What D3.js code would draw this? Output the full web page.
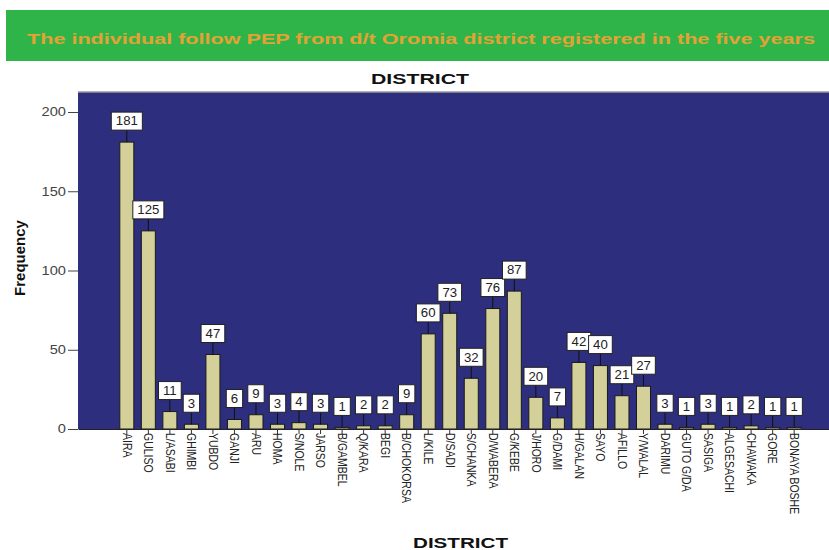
<!DOCTYPE html>
<html><head><meta charset="utf-8">
<script src="https://cdn.jsdelivr.net/npm/d3@7/dist/d3.min.js"></script>
<style>body{margin:0;background:#fff}svg{display:block}</style>
</head><body>
<svg id="c" width="829" height="550"></svg>
<script>
const districts = ["AIRA","GULISO","L/ASABI","GHIMBI","YUBDO","GANJI","ARU","HOMA","S/NOLE","JARSO","B/GAMBEL","Q/KARA","BEGI","B/CHOKORSA","L/KILE","D/SADI","S/CHANKA","D/WABERA","G/KEBE","J/HORO","G/DAMI","H/GALAN","SAYO","AFILLO","Y/WALAL","DARIMU","GUTO G/DA","SASIGA","ALGESACHI","CHAWAKA","GORE","BONAYA BOSHE"];
const frequency = [181,125,11,3,47,6,9,3,4,3,1,2,2,9,60,73,32,76,87,20,7,42,40,21,27,3,1,3,1,2,1,1];
const yTicks = [0,50,100,150,200];
const bannerText = "The individual follow PEP from d/t Oromia district registered in the five years";
const chartTitle = "DISTRICT";
const xTitle = "DISTRICT";
const yTitle = "Frequency";

const svg = d3.select("#c");
const font = "Arial, 'Liberation Sans', sans-serif";

// banner
svg.append("rect").attr("x",6).attr("y",10).attr("width",830).attr("height",51).attr("fill","#2fb44a");
svg.append("text").attr("x",27).attr("y",44)
  .attr("font-family",font).attr("font-weight","bold").attr("font-size",15.5)
  .attr("textLength",788).attr("lengthAdjust","spacingAndGlyphs")
  .attr("fill","#e2a334").text(bannerText);

// title
svg.append("text").attr("x",371).attr("y",84)
  .attr("font-family",font).attr("font-weight","bold").attr("font-size",15)
  .attr("textLength",98).attr("lengthAdjust","spacingAndGlyphs")
  .attr("fill","#111").text(chartTitle);

const pLeft = 78, pTop = 92, pBottom = 429;
const x = d3.scaleBand().domain(districts).range([pLeft, 843]).paddingInner(0.303).paddingOuter(1.919);
const y = d3.scaleLinear().domain([0,200]).range([pBottom, 112]);

// plot background
svg.append("rect").attr("x",pLeft).attr("y",pTop).attr("width",829-pLeft).attr("height",pBottom-pTop)
  .attr("fill","#2d2e7d");
svg.append("line").attr("x1",pLeft).attr("x2",829).attr("y1",pTop).attr("y2",pTop)
  .attr("stroke","#999").attr("stroke-width",1.5);

// bars
svg.append("g").selectAll("rect").data(frequency).join("rect")
  .attr("x",(d,i)=>x(districts[i])+0.5)
  .attr("y",d=>y(d))
  .attr("width",x.bandwidth()-1)
  .attr("height",d=>pBottom-y(d))
  .attr("fill","#d3d09a").attr("stroke","#1a1a1a").attr("stroke-width",1);

// y axis
const yAxis = svg.append("g").attr("transform",`translate(${pLeft},0)`)
  .call(d3.axisLeft(y).tickValues(yTicks).tickSize(10).tickPadding(2));
yAxis.select(".domain").remove();
yAxis.selectAll("line").attr("stroke","#444");
yAxis.selectAll("text").attr("font-family",font).attr("font-size",12).attr("fill","#444")
  .attr("transform","scale(1.22,1)").attr("x",-12/1.22);

// x axis
const xAxis = svg.append("g").attr("transform",`translate(0,${pBottom})`)
  .call(d3.axisBottom(x).tickSize(5).tickSizeOuter(0));
xAxis.select(".domain").attr("stroke","#222");
xAxis.selectAll("line").attr("stroke","#333");
xAxis.selectAll("text").attr("font-family",font).attr("font-size",10.5).attr("fill","#222")
  .attr("transform","rotate(90) scale(1,1.15)").attr("text-anchor","start")
  .attr("x",4).attr("y",0).attr("dy","0.35em");

// value labels
const lab = svg.append("g");
frequency.forEach((d,i)=>{
  const cx = x(districts[i]) + x.bandwidth()/2;
  const by = y(d);
  const cy = by - 21;
  const g = lab.append("g");
  g.append("line").attr("x1",cx).attr("x2",cx).attr("y1",cy+9).attr("y2",by)
    .attr("stroke","#111").attr("stroke-width",1);
  const t = g.append("text").attr("x",cx).attr("y",cy).attr("dy","0.36em")
    .attr("text-anchor","middle").attr("font-family",font).attr("font-size",12)
    .attr("fill","#222").text(d);
  const w = t.node().getComputedTextLength()*1.1 + 9;
  t.attr("transform",`translate(${cx},0) scale(1.1,1) translate(${-cx},0)`);
  g.insert("rect","text").attr("x",cx-w/2).attr("y",cy-9).attr("width",w).attr("height",18)
    .attr("fill","#fff").attr("stroke","#222").attr("stroke-width",1);
});

// axis titles
svg.append("text").attr("transform","translate(25,258) rotate(-90)").attr("text-anchor","middle")
  .attr("font-family",font).attr("font-weight","bold").attr("font-size",15).attr("fill","#111").text(yTitle);
svg.append("text").attr("x",413).attr("y",548)
  .attr("font-family",font).attr("font-weight","bold").attr("font-size",15)
  .attr("textLength",95).attr("lengthAdjust","spacingAndGlyphs")
  .attr("fill","#111").text(xTitle);
</script>
</body></html>
